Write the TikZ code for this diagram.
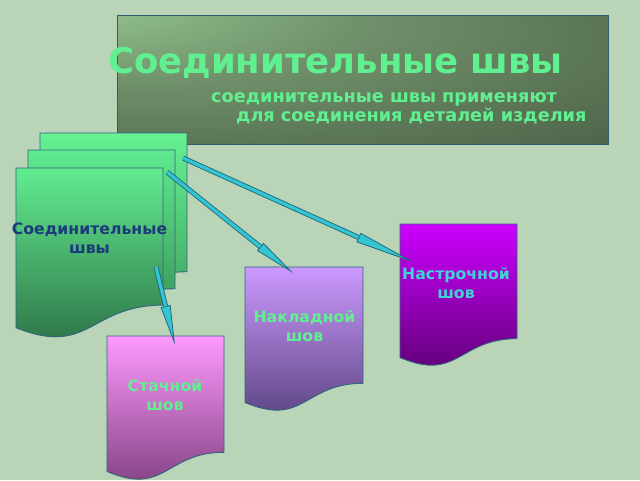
\documentclass[tikz,border=0pt]{standalone}
\usepackage{fontspec}
\setmainfont{DejaVu Sans}
\usetikzlibrary{arrows.meta}

\definecolor{slidebg}{HTML}{BAD4B7}
\definecolor{glowA}{HTML}{98C593}
\definecolor{glowB}{HTML}{8CB987}
\definecolor{glowC}{HTML}{6F906A}
\definecolor{glowD}{HTML}{566F51}
\definecolor{glowE}{HTML}{4A5E46}
\definecolor{glowF}{HTML}{455843}
\definecolor{titleedge}{HTML}{2E5C6A}
\definecolor{titlegreen}{HTML}{60F090}
\definecolor{docedge}{HTML}{2F6680}
\definecolor{navy}{HTML}{1B3B7A}
\definecolor{seamcyan}{HTML}{35C4D2}
\definecolor{seamedge}{HTML}{1F6B7E}
\definecolor{labelcyan}{HTML}{40D2D6}
% sheet colours
\definecolor{backtop}{HTML}{66F293}
\definecolor{backbot}{HTML}{3C9A5A}
\definecolor{midtop}{HTML}{5FE98E}
\definecolor{midbot}{HTML}{348850}
\definecolor{fronttop}{HTML}{62EC90}
\definecolor{frontbot}{HTML}{2A6C42}
\definecolor{nastrtop}{HTML}{CC00FF}
\definecolor{nastrbot}{HTML}{5A006E}
\definecolor{nakladtop}{HTML}{CC99FF}
\definecolor{nakladbot}{HTML}{55407A}
\definecolor{stachtop}{HTML}{FF99FF}
\definecolor{stachbot}{HTML}{7A3C7A}

\pgfdeclareradialshading{titleglow}{\pgfpoint{-37bp}{35bp}}{color(0bp)=(glowA); color(10bp)=(glowB); color(25bp)=(glowC); color(45bp)=(glowD); color(56bp)=(glowE); color(75bp)=(glowF)}

% document shape: left, top, width, full height, top colour, bottom colour
\newcommand{\seamdoc}[6]{%
  \path[doc, top color=#5, bottom color=#6] (#1,#2) -- (#1+#3,#2) -- (#1+#3,#2+0.802*#4)
    .. controls (#1+0.5*#3,#2+0.802*#4) and (#1+0.5*#3,#2+1.1075*#4) .. (#1,#2+0.934*#4) -- cycle;}

\tikzset{
  doc/.style={draw=docedge, line width=0.9pt},
  seamlabel/.style={font=\fontsize{15.7}{19}\selectfont\bfseries, align=center, inner sep=0pt},
  subline/.style={anchor=base west, inner sep=0pt, text=titlegreen, font=\fontsize{17.7}{19}\selectfont\bfseries},
  seam/.style={draw=seamedge, line width=5pt,
    -{Triangle[length=#1, width=10pt, line width=0.8pt, fill=seamcyan]},
    postaction={draw=seamcyan, line width=3.2pt, -, shorten >=#1}},
}

\begin{document}
\begin{tikzpicture}[x=1pt, y=-1pt]
  \fill[slidebg] (0,0) rectangle (640,480);
  \useasboundingbox (0,0) rectangle (640,480);

  % title panel
  \path[shading=titleglow, draw=titleedge, line width=0.9pt] (117,15) rectangle (608,144);
  \node[anchor=base west, inner sep=0pt, text=titlegreen, font=\fontsize{35.4}{40}\selectfont\bfseries] (title) at (108,73) {Соединительные швы};
  \node[subline] (subA) at (211,102) {соединительные швы применяют};
  \node[subline] (subB) at (236,121) {для соединения деталей изделия};

  % stack of sheets
  \seamdoc{40}{133}{147}{173}{backtop}{backbot}
  \seamdoc{28}{150}{147}{173}{midtop}{midbot}
  \seamdoc{16}{168}{147}{171}{fronttop}{frontbot}
  \node[seamlabel, text=navy] (main) at (89.5,238) {Соединительные\\швы};

  % kinds of seams
  \seamdoc{400}{224}{117}{143}{nastrtop}{nastrbot}
  \node[seamlabel, text=labelcyan] (nastr) at (456,283.5) {Настрочной\\шов};
  \seamdoc{245}{267}{118}{145}{nakladtop}{nakladbot}
  \node[seamlabel, text=titlegreen] (naklad) at (304.5,326) {Накладной\\шов};
  \seamdoc{107}{336}{117}{145}{stachtop}{stachbot}
  \node[seamlabel, text=titlegreen] (stach) at (165,395) {Стачной\\шов};

  % arrows
  \coordinate (nastrStart) at (183,158);
  \coordinate (nastrTip) at (415,263);
  \coordinate (nakladStart) at (167,172);
  \coordinate (nakladTip) at (293,273);
  \coordinate (stachStart) at (156,267);
  \coordinate (stachTip) at (175,345);
  \draw[seam=62pt] (nastrStart) -- (nastrTip);
  \draw[seam=42pt] (nakladStart) -- (nakladTip);
  \draw[seam=40pt] (stachStart) -- (stachTip);
\end{tikzpicture}
\end{document}
